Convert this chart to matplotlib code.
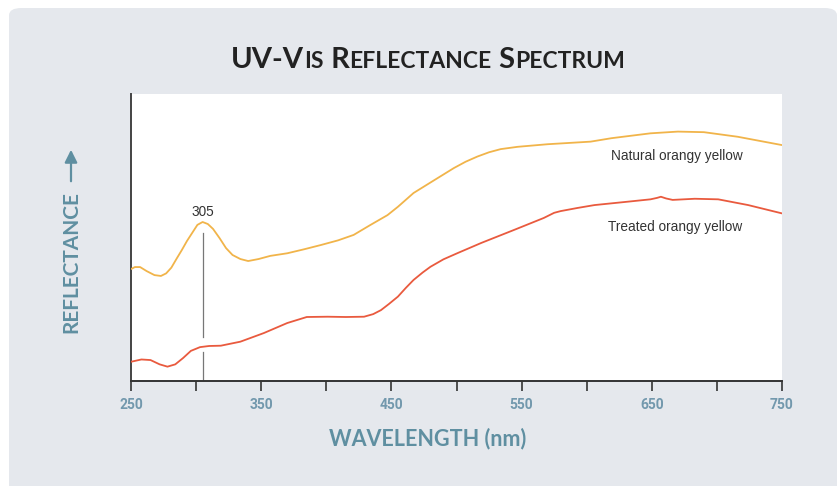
import matplotlib
matplotlib.use("Agg")
import matplotlib.pyplot as plt
from matplotlib.patches import FancyBboxPatch, FancyArrowPatch
from matplotlib import font_manager as fm

# ---------------- data ----------------
natural_nm = [250, 253, 257, 262, 268, 273, 277, 281, 285, 289, 293, 297, 301, 305, 309, 313,
              318, 323, 328, 334, 340, 348, 357, 370, 383, 396, 409, 421, 434, 447, 455, 467,
              483, 498, 507, 516, 525, 534, 547, 570, 603, 619, 649, 670, 690, 716, 750]
natural_R = [39.0, 39.7, 39.7, 38.3, 36.9, 36.6, 37.5, 39.5, 42.6, 45.6, 48.8, 51.6, 54.4,
             55.4, 54.7, 53.0, 49.8, 46.3, 43.9, 42.5, 41.8, 42.5, 43.6, 44.5, 45.9, 47.4,
             49.0, 50.9, 54.4, 57.8, 60.7, 65.5, 70.0, 74.2, 76.4, 78.2, 79.7, 80.8, 81.6,
             82.5, 83.4, 84.6, 86.3, 86.9, 86.7, 85.1, 82.2]

treated_nm = [250, 258, 265, 272, 278, 284, 290, 296, 303, 310, 319, 334, 352, 370, 385,
              401, 415, 429, 436, 442, 448, 455, 461, 467, 474, 480, 490, 501, 519, 544,
              567, 575, 580, 593, 606, 632, 649, 654, 657, 661, 666, 683, 701, 724, 750]
treated_R = [6.7, 7.5, 7.3, 5.8, 5.0, 5.8, 8.0, 10.5, 11.8, 12.2, 12.3, 13.7, 16.7, 20.2,
             22.3, 22.4, 22.3, 22.4, 23.3, 24.7, 26.8, 29.4, 32.4, 35.2, 37.8, 39.8, 42.4,
             44.6, 48.1, 52.6, 56.8, 58.6, 59.2, 60.3, 61.3, 62.5, 63.3, 63.8, 64.2, 63.6,
             63.1, 63.5, 63.3, 61.3, 58.4]

series_labels = ["Natural orangy yellow", "Treated orangy yellow"]
peak_nm = 305
xticks_all = [250, 300, 350, 400, 450, 500, 550, 600, 650, 700, 750]
xtick_labels = ["250", "", "350", "", "450", "", "550", "", "650", "", "750"]

# ---------------- styling ----------------
available = {f.name for f in fm.fontManager.ttflist}
def pick(*names):
    for n in names:
        if n in available:
            return n
    return "DejaVu Sans"

title_font = pick("Lato", "Open Sans", "DejaVu Sans")
label_font = pick("Lato", "Open Sans", "DejaVu Sans")
tick_font = pick("Liberation Sans Narrow", "Roboto", "DejaVu Sans")
note_font = pick("Liberation Sans", "Noto Sans", "DejaVu Sans")

teal = "#5f8fa1"
tick_teal = "#7298ad"
c_nat = "#f1b44a"
c_trt = "#e95a3e"

W, H = 840, 486
fig = plt.figure(figsize=(W / 100, H / 100), dpi=100)
fig.patch.set_facecolor("white")

card = FancyBboxPatch((9 / W, -0.05), (837 - 9) / W, (H - 8) / H + 0.05,
                      boxstyle="round,pad=0,rounding_size=0.015",
                      transform=fig.transFigure, facecolor="#e5e8ed",
                      edgecolor="none", zorder=-5)
fig.patches.append(card)

left, right, top, bottom = 131, 782, 94, 381
ax = fig.add_axes([left / W, (H - bottom) / H, (right - left) / W, (bottom - top) / H])
ax.set_zorder(2)
ax.set_facecolor("white")

ax.plot(natural_nm, natural_R, color=c_nat, lw=1.3, solid_capstyle="round",
        solid_joinstyle="round", zorder=3)
ax.plot(treated_nm, treated_R, color=c_trt, lw=1.3, solid_capstyle="round",
        solid_joinstyle="round", zorder=3)

# 305 marker line (broken around the treated curve)
ax.plot([peak_nm, peak_nm], [51.7, 15.2], color="#777777", lw=0.9, zorder=2)
ax.plot([peak_nm, peak_nm], [10.0, 0], color="#777777", lw=0.9, zorder=2)
ax.text(peak_nm, 59.0, str(peak_nm), ha="center", va="center", fontsize=9.8,
        color="#333333", family=note_font)

ax.text(669, 78.4, series_labels[0], ha="center", va="center", fontsize=9.8,
        color="#333333", family=note_font)
ax.text(668, 53.8, series_labels[1], ha="center", va="center", fontsize=9.8,
        color="#333333", family=note_font)

ax.set_xlim(250, 750)
ax.set_ylim(0, 100)
ax.set_xticks(xticks_all)
ax.set_xticklabels(xtick_labels)
ax.set_yticks([])
for s in ["top", "right"]:
    ax.spines[s].set_visible(False)
ax.spines["left"].set_color("#444444")
ax.spines["left"].set_linewidth(1.4)
ax.spines["bottom"].set_color("#333333")
ax.spines["bottom"].set_linewidth(1.4)
ax.tick_params(axis="x", direction="out", length=7, width=1.2, color="#333333",
               pad=5, labelsize=10, labelcolor=tick_teal)
for t in ax.get_xticklabels():
    t.set_family(tick_font)
    t.set_fontweight("bold")

# ---------------- labels ----------------
fig.text(428 / W, 1 - 439 / H, "WAVELENGTH (nm)", ha="center", va="center",
         fontsize=15.5, color=teal, family=label_font, fontweight="bold")
fig.text(71 / W, 1 - 262 / H, "REFLECTANCE", ha="center", va="center", rotation=90,
         fontsize=15, color=teal, family=label_font, fontweight="bold")
fig.patches.append(FancyArrowPatch(
    (71 / W, 1 - 184 / H), (71 / W, 1 - 147 / H), transform=fig.transFigure,
    arrowstyle="-|>,head_length=5,head_width=2.5", mutation_scale=1.5,
    color=teal, lw=1.6))

# small-caps title
pieces = [("UV-V", 21), ("IS", 16.5), (" R", 21), ("EFLECTANCE", 16.5), (" S", 21), ("PECTRUM", 16.5)]
fig.canvas.draw()
renderer = fig.canvas.get_renderer()
texts = []
widths = []
for s, size in pieces:
    t = fig.text(0, 0, s, fontsize=size, family=title_font, fontweight="bold",
                 color="#222222", ha="left", va="baseline")
    bb = t.get_window_extent(renderer)
    texts.append(t)
    widths.append(bb.width)
total = sum(widths)
x0 = 428 - total / 2
base_y = 1 - 68 / H
for t, w in zip(texts, widths):
    t.set_position((x0 / W, base_y))
    x0 += w

fig.savefig("out.png", dpi=100, facecolor="white")
